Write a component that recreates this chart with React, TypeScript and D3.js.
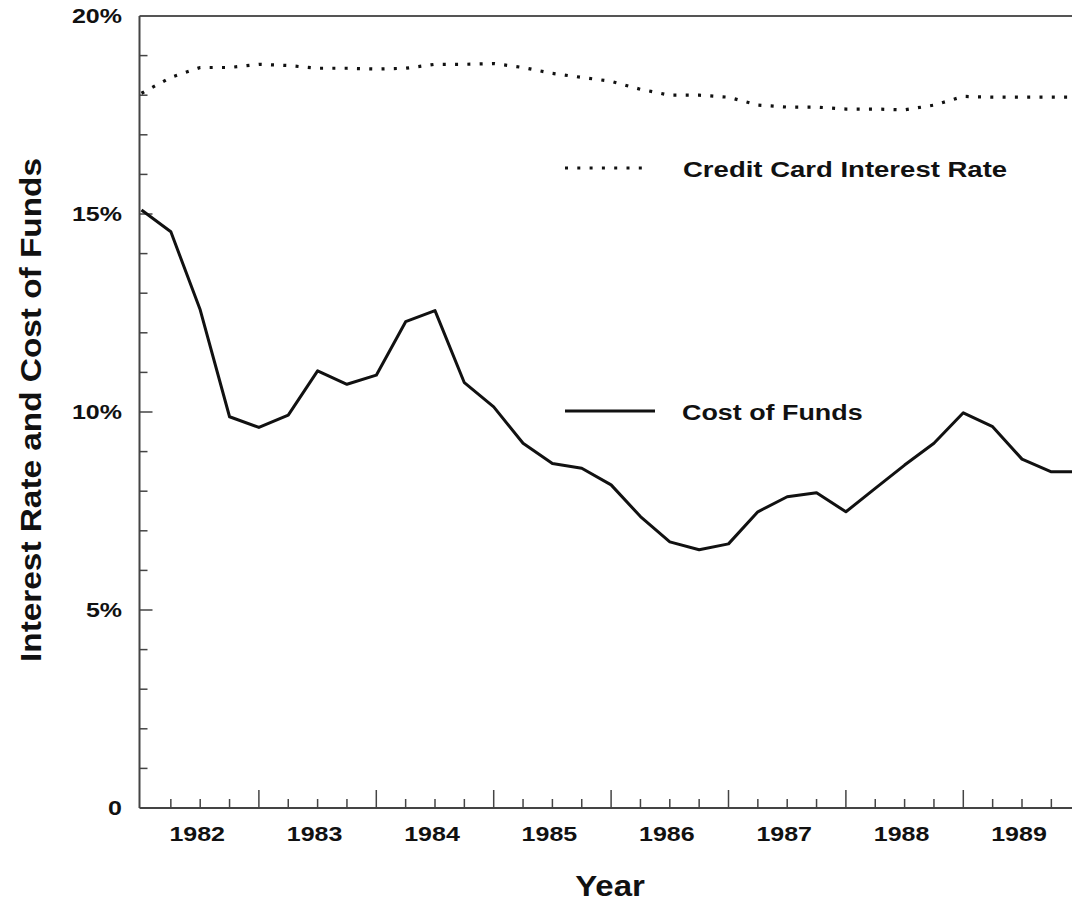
import React from "react";
import * as d3 from "d3";

// quarterly observations, 1982 Q1 .. 1990 Q1
const quarters = d3.range(0, 33).map((i) => 1982 + i * 0.25);
const creditCardRate = [
  18.05, 18.45, 18.7, 18.7, 18.78, 18.75, 18.68, 18.68, 18.66, 18.68, 18.78,
  18.78, 18.8, 18.7, 18.55, 18.45, 18.35, 18.15, 18.0, 18.0, 17.95, 17.75,
  17.7, 17.7, 17.65, 17.65, 17.63, 17.75, 17.97, 17.95, 17.95, 17.95, 17.95,
];
const costOfFunds = [
  15.1, 14.55, 12.58, 9.88, 9.61, 9.92, 11.04, 10.7, 10.93, 12.28, 12.56,
  10.74, 10.13, 9.21, 8.7, 8.58, 8.16, 7.36, 6.72, 6.52, 6.67, 7.48, 7.86,
  7.96, 7.48, 8.07, 8.66, 9.21, 9.98, 9.63, 8.81, 8.49, 8.49,
];
const yearLabels = [1982, 1983, 1984, 1985, 1986, 1987, 1988, 1989];
const yLabelValues = [0, 5, 10, 15, 20];

const W = 1072;
const H = 902;
const FONT = "'Liberation Sans', Arial, Helvetica, sans-serif";

export default function App() {
  const x = d3.scaleLinear().domain([1982, 1990]).range([141.5, 1080.7]);
  const y = d3.scaleLinear().domain([0, 20]).range([808, 16]);

  const line = d3
    .line<number>()
    .x((_, i) => x(quarters[i]))
    .y((d) => y(d));

  const left = 139.5;
  const bottom = y(0);

  const yMinor = d3.range(1, 20);
  const xTicks = d3.range(1982.25, 1990, 0.25);

  return (
    <>
      <style>{`body{margin:0;background:#fff}`}</style>
      <svg width={W} height={H} style={{ display: "block" }} fontFamily={FONT}>
        <rect width={W} height={H} fill="#fff" />

        {/* frame */}
        <line x1={left} x2={W} y1={y(20)} y2={y(20)} stroke="#555" strokeWidth={2} />
        <line x1={left} x2={left} y1={y(20)} y2={bottom} stroke="#444" strokeWidth={2} />
        <line x1={left} x2={W} y1={bottom} y2={bottom} stroke="#444" strokeWidth={2} />

        {/* y ticks */}
        {yMinor.map((v) => (
          <line
            key={"yt" + v}
            x1={left}
            x2={left + (v % 5 === 0 ? 13 : 8)}
            y1={y(v)}
            y2={y(v)}
            stroke="#444"
            strokeWidth={1.5}
          />
        ))}
        {yLabelValues.map((v) => (
          <text
            key={"yl" + v}
            transform={`translate(122,${y(v) + 7}) scale(1.25,1)`}
            textAnchor="end"
            fontSize={20}
            fontWeight="bold"
            fill="#111"
          >
            {v === 0 ? "0" : `${v}%`}
          </text>
        ))}

        {/* x ticks */}
        {xTicks.map((t) => {
          const major = Math.abs(t - Math.round(t)) < 1e-6;
          return (
            <line
              key={"xt" + t}
              x1={x(t)}
              x2={x(t)}
              y1={bottom}
              y2={bottom - (major ? 18 : 9)}
              stroke="#444"
              strokeWidth={1.5}
            />
          );
        })}
        {yearLabels.map((yr) => (
          <text
            key={"xl" + yr}
            transform={`translate(${x(yr + 0.5) - 3},841) scale(1.25,1)`}
            textAnchor="middle"
            fontSize={20}
            fontWeight="bold"
            fill="#111"
          >
            {yr}
          </text>
        ))}

        {/* axis titles */}
        <text
          transform="translate(610,896) scale(1.1,1)"
          textAnchor="middle"
          fontSize={30}
          fontWeight="bold"
          fill="#111"
        >
          Year
        </text>
        <text
          transform="translate(41,410) rotate(-90) scale(1.15,1)"
          textAnchor="middle"
          fontSize={29}
          fontWeight="bold"
          fill="#111"
        >
          Interest Rate and Cost of Funds
        </text>

        {/* series */}
        <path
          d={line(creditCardRate) ?? ""}
          fill="none"
          stroke="#111"
          strokeWidth={3.2}
          strokeDasharray="3 9.3"
        />
        <path
          d={line(costOfFunds) ?? ""}
          fill="none"
          stroke="#111"
          strokeWidth={3}
          strokeLinejoin="round"
        />

        {/* legend */}
        <line x1={565} x2={642} y1={168} y2={168} stroke="#111" strokeWidth={3.2} strokeDasharray="3 9.3" />
        <text
          transform="translate(683,177) scale(1.28,1)"
          fontSize={21.5}
          fontWeight="bold"
          fill="#111"
        >
          Credit Card Interest Rate
        </text>
        <line x1={565} x2={655} y1={411} y2={411} stroke="#111" strokeWidth={3} />
        <text
          transform="translate(682,420) scale(1.25,1)"
          fontSize={21.5}
          fontWeight="bold"
          fill="#111"
        >
          Cost of Funds
        </text>
      </svg>
    </>
  );
}
